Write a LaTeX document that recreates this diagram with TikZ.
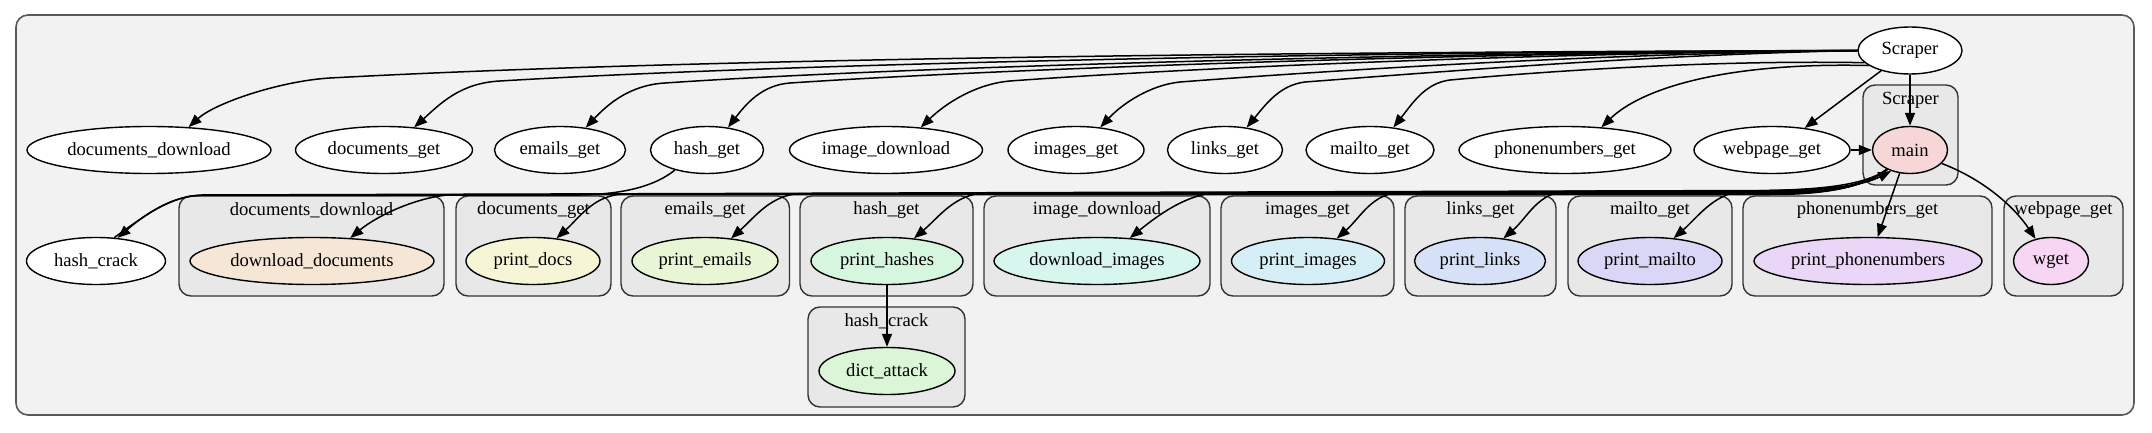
\documentclass[tikz,border=0pt]{standalone}
\usepackage{fontspec}
\setmainfont{Liberation Serif}
\usetikzlibrary{shapes.geometric,arrows.meta,calc}
\newcommand\nf{\fontsize{9.3}{11}\selectfont}
\definecolor{cmain}{RGB}{246,214,214}
\definecolor{cdd}{RGB}{246,230,214}
\definecolor{cpd}{RGB}{246,246,214}
\definecolor{cpe}{RGB}{232,246,214}
\definecolor{cph}{RGB}{214,246,224}
\definecolor{cda}{RGB}{218,246,214}
\definecolor{cdi}{RGB}{214,246,238}
\definecolor{cpi}{RGB}{214,238,246}
\definecolor{cpl}{RGB}{214,224,246}
\definecolor{cpm}{RGB}{218,214,246}
\definecolor{cpp}{RGB}{234,214,246}
\definecolor{cwg}{RGB}{246,214,242}
\begin{document}
\begin{tikzpicture}[x=0.5pt,y=-0.5pt,
 fn/.style={ellipse,draw=black,line width=0.7pt,inner sep=0pt,minimum height=23.5pt,font=\nf,fill=white},
 cl/.style={draw=black!80,fill=black!9,rounded corners=6pt,line width=0.7pt},
 cllab/.style={font=\nf,inner sep=0pt},
 conn/.style={line width=0.75pt,-{Triangle[length=6.5pt,width=5pt]}},
]
\useasboundingbox (0,0) rectangle (2152,433);
\draw[draw=black!65,fill=black!5,rounded corners=6pt,line width=0.8pt] (16,15) rectangle (2134,415);

% clusters
\draw[cl] (1863,85) rectangle (1958,185);
\node[cllab] (lscr) at (1910.5,100) {Scraper};
\draw[cl] (179,196) rectangle (444,296);
\node[cllab] (ldd) at (311.5,210) {documents\_download};
\draw[cl] (456,196) rectangle (611,296);
\node[cllab] (ldg) at (533.5,210) {documents\_get};
\draw[cl] (621,196) rectangle (789.5,296);
\node[cllab] (leg) at (705,210) {emails\_get};
\draw[cl] (800,196) rectangle (973,296);
\node[cllab] (lhg) at (886.5,210) {hash\_get};
\draw[cl] (984,196) rectangle (1210,296);
\node[cllab] (lid) at (1097,210) {image\_download};
\draw[cl] (1221,196) rectangle (1394,296);
\node[cllab] (lig) at (1307.5,210) {images\_get};
\draw[cl] (1405,196) rectangle (1556,296);
\node[cllab] (llg) at (1480.5,210) {links\_get};
\draw[cl] (1568,196) rectangle (1732,296);
\node[cllab] (lmg) at (1650,210) {mailto\_get};
\draw[cl] (1743,196) rectangle (1992,296);
\node[cllab] (lpg) at (1867.5,210) {phonenumbers\_get};
\draw[cl] (2004,196) rectangle (2123,296);
\node[cllab] (lwg) at (2063.5,210) {webpage\_get};
\draw[cl] (808,307) rectangle (965,407);
\node[cllab] (lhc) at (886.5,321) {hash\_crack};

% nodes row 0/1
\node[fn,minimum width=52pt] (S) at (1910,50.5) {Scraper};
\node[fn,minimum width=122pt] (ndd) at (149,150) {documents\_download};
\node[fn,minimum width=88.5pt] (ndg) at (384,150) {documents\_get};
\node[fn,minimum width=65.5pt] (neg) at (560,150) {emails\_get};
\node[fn,minimum width=56.5pt] (nhg) at (707,150) {hash\_get};
\node[fn,minimum width=96.5pt] (nid) at (886,150) {image\_download};
\node[fn,minimum width=68pt] (nig) at (1076,150) {images\_get};
\node[fn,minimum width=57.5pt] (nlg) at (1225,150) {links\_get};
\node[fn,minimum width=64pt] (nmg) at (1370,150) {mailto\_get};
\node[fn,minimum width=106pt] (npg) at (1565,150) {phonenumbers\_get};
\node[fn,minimum width=78pt] (nwg) at (1772,150) {webpage\_get};
\node[fn,minimum width=37.5pt,fill=cmain] (main) at (1910,150) {main};

% row 2
\node[fn,minimum width=69.5pt] (nhc) at (96,261) {hash\_crack};
\node[fn,minimum width=122pt,fill=cdd] (ndd2) at (312,261) {download\_documents};
\node[fn,minimum width=67pt,fill=cpd] (npd) at (533,261) {print\_docs};
\node[fn,minimum width=73pt,fill=cpe] (npe) at (705,261) {print\_emails};
\node[fn,minimum width=76pt,fill=cph] (nph) at (887,261) {print\_hashes};
\node[fn,minimum width=103pt,fill=cdi] (ndi) at (1097,261) {download\_images};
\node[fn,minimum width=76.5pt,fill=cpi] (npi) at (1308,261) {print\_images};
\node[fn,minimum width=65.5pt,fill=cpl] (npl) at (1480,261) {print\_links};
\node[fn,minimum width=72pt,fill=cpm] (npm) at (1650,261) {print\_mailto};
\node[fn,minimum width=114pt,fill=cpp] (npp) at (1868,261) {print\_phonenumbers};
\node[fn,minimum width=37.5pt,fill=cwg] (nwgt) at (2051,261) {wget};
\node[fn,minimum width=68pt,fill=cda] (nda) at (887,371) {dict\_attack};

% edges from Scraper
\draw[conn] (S.west) .. controls (1300,52) and (700,58) .. (330,78) .. controls (280,81) and (215,103) .. (ndd.30);
\draw[conn] (S.west) .. controls (1350,52) and (800,63) .. (500,81) .. controls (460,83) and (440,104) .. (ndg.37);
\draw[conn] (S.west) .. controls (1400,53) and (900,67) .. (665,83) .. controls (630,85) and (608,104) .. (neg.41);
\draw[conn] (S.west) .. controls (1450,53) and (1000,69) .. (790,83) .. controls (762,85) and (746,104) .. (nhg.47);
\draw[conn] (S.west) .. controls (1550,53) and (1200,67) .. (1010,81) .. controls (975,84) and (945,104) .. (nid.33);
\draw[conn] (S.west) .. controls (1600,54) and (1350,69) .. (1180,82) .. controls (1150,85) and (1122,104) .. (nig.43);
\draw[conn] (S.west) .. controls (1650,55) and (1450,71) .. (1305,82) .. controls (1280,85) and (1266,104) .. (nlg.46);
\draw[conn] (S.195) .. controls (1720,60) and (1560,70) .. (1450,80) .. controls (1425,83) and (1412,104) .. (nmg.44);
\draw[conn] (S.200) .. controls (1720,62) and (1640,90) .. (npg.32);
\draw[conn] (S.215) -- (nwg.34);
\draw[conn] (S.south) -- (main.north);
\draw[conn] (nwg.east) -- (main.west);

% edges from main
\draw[conn] (main.220) .. controls (1860,189) and (1800,190) .. (1745,191) .. controls (1715,192) and (1698,217) .. (npm.44);
\draw[conn] (main.220) .. controls (1862,189) and (1820,191) .. (1770,191) -- (1568,191) .. controls (1538,192) and (1528,217) .. (npl.44);
\draw[conn] (main.220) .. controls (1862,189) and (1820,192) .. (1770,192) -- (1402,192) .. controls (1372,193) and (1361,217) .. (npi.38);
\draw[conn] (main.220) .. controls (1862,189) and (1820,192.5) .. (1770,192.5) -- (1219,192.5) .. controls (1186,193.5) and (1156,217) .. (ndi.35);
\draw[conn] (main.220) .. controls (1862,189) and (1820,193) .. (1770,193) -- (985,193) .. controls (955,194) and (939,217) .. (nph.40);
\draw[conn] (main.220) .. controls (1862,189) and (1820,193.5) .. (1770,193.5) -- (801,193.5) .. controls (771,194.5) and (755,217) .. (npe.41.5);
\draw[conn] (main.220) .. controls (1862,189) and (1820,194) .. (1770,194) -- (624,194) .. controls (594,195) and (580,217) .. (npd.44.5);
\draw[conn] (main.220) .. controls (1862,189) and (1820,194.5) .. (1770,194.5) -- (455,194.5) .. controls (420,195.5) and (378,215) .. (ndd2.31);
\draw[conn] (nhg.212) .. controls (655,186) and (625,194) .. (580,195) -- (200,195.5) .. controls (170,196) and (142,217) .. (nhc.47);
\draw[conn] (nhc.52) .. controls (144,216) and (170,196) .. (202,195) -- (1770,190.5) .. controls (1830,189.5) and (1862,186) .. (main.228);
\draw[conn] (main.246) -- (npp.68);
\draw[conn] (main.-23) .. controls (1985,180) and (2015,208) .. (nwgt.125);
\draw[conn] (nph.south) -- (nda.north);
\end{tikzpicture}
\end{document}
